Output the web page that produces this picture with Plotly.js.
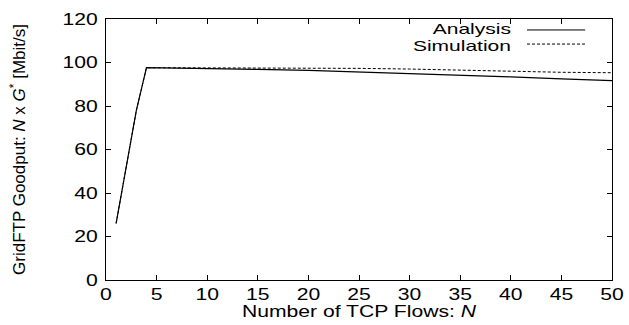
<!DOCTYPE html>
<html><head><meta charset="utf-8">
<script src="https://cdn.plot.ly/plotly-3.0.1.min.js"></script>
<style>html,body{margin:0;padding:0;background:#fff}#chart{width:629px;height:325px}</style>
</head><body><div id="chart"></div>
<script>
const flowsAnalysis = [1, 2, 3, 4, 5, 10, 15, 20, 25, 30, 35, 40, 45, 50];
const goodputAnalysis = [26, 52, 78, 97.6, 97.5, 97.2, 96.8, 96.4, 95.7, 95.0, 94.2, 93.4, 92.5, 91.7];
const flowsSimulation = [1, 2, 3, 4, 5, 10, 15, 20, 25, 30, 35, 40, 45, 50];
const goodputSimulation = [26, 52, 78, 97.6, 97.6, 97.6, 97.5, 97.4, 97.3, 97.0, 96.4, 95.9, 95.5, 95.3];
const xTicks = [0, 5, 10, 15, 20, 25, 30, 35, 40, 45, 50];
const yTicks = [0, 20, 40, 60, 80, 100, 120];
const seriesNames = ["Analysis", "Simulation"];

const font = "Liberation Sans, Arial, sans-serif";
const STRETCH = 1.32;
const LEGEND_STRETCH = 1.4;
const traces = [
  {x: flowsAnalysis, y: goodputAnalysis, mode: "lines", name: seriesNames[0],
   line: {color: "#000", width: 1.2}},
  {x: flowsSimulation, y: goodputSimulation, mode: "lines", name: seriesNames[1],
   line: {color: "#000", width: 1, dash: "3px,2px"}}
];
const axisCommon = {showline: true, linecolor: "#000", linewidth: 1, mirror: "ticks",
  ticks: "inside", ticklen: 5, tickcolor: "#000", showgrid: false, zeroline: false,
  tickfont: {family: font, size: 16, color: "#000"}};
const layout = {
  width: 629, height: 325,
  margin: {l: 106, r: 17, t: 19, b: 45},
  paper_bgcolor: "#fff", plot_bgcolor: "#fff",
  showlegend: false,
  xaxis: Object.assign({}, axisCommon, {range: [0, 50], tickvals: xTicks, ticktext: xTicks.map(String),
    title: {text: "Number of TCP Flows: <i>N</i>", font: {family: font, size: 16, color: "#000"}, standoff: 0}}),
  yaxis: Object.assign({}, axisCommon, {range: [0, 120], tickvals: yTicks, ticktext: yTicks.map(String),
    ticklabelstandoff: 4,
    title: {text: "GridFTP Goodput: <i>N</i> x <i>G</i><sup>*</sup> [Mbit/s]", font: {family: font, size: 17, color: "#000"}, standoff: 41}}),
  annotations: [
    {xref: "paper", yref: "paper", x: 0.804, y: 0.962, xanchor: "right", yanchor: "middle", showarrow: false,
     text: seriesNames[0], font: {family: font, size: 15, color: "#000"}},
    {xref: "paper", yref: "paper", x: 0.804, y: 0.900, xanchor: "right", yanchor: "middle", showarrow: false,
     text: seriesNames[1], font: {family: font, size: 15, color: "#000"}}
  ],
  shapes: [
    {type: "line", xref: "paper", yref: "paper", x0: 0.832, x1: 0.947, y0: 0.958, y1: 0.958, line: {color: "#000", width: 1}},
    {type: "line", xref: "paper", yref: "paper", x0: 0.832, x1: 0.947, y0: 0.904, y1: 0.904, line: {color: "#000", width: 1, dash: "3px,2px"}}
  ]
};
Plotly.newPlot("chart", traces, layout, {staticPlot: true, displayModeBar: false}).then(gd => {
  // widen horizontal texts to match the reference's stretched lettering
  gd.querySelectorAll(".xtick text, .ytick text, .g-xtitle text").forEach(t => {
    const w = t.getComputedTextLength();
    t.setAttribute("textLength", (w * STRETCH).toFixed(1));
    t.setAttribute("lengthAdjust", "spacingAndGlyphs");
  });
  gd.querySelectorAll(".annotation-text").forEach(t => {
    const bb = t.getBBox();
    const w = t.getComputedTextLength();
    t.setAttribute("text-anchor", "end");
    t.style.textAnchor = "end";
    t.setAttribute("x", (bb.x + bb.width).toFixed(1));
    t.setAttribute("textLength", (w * LEGEND_STRETCH).toFixed(1));
    t.setAttribute("lengthAdjust", "spacingAndGlyphs");
  });
});
</script></body></html>
